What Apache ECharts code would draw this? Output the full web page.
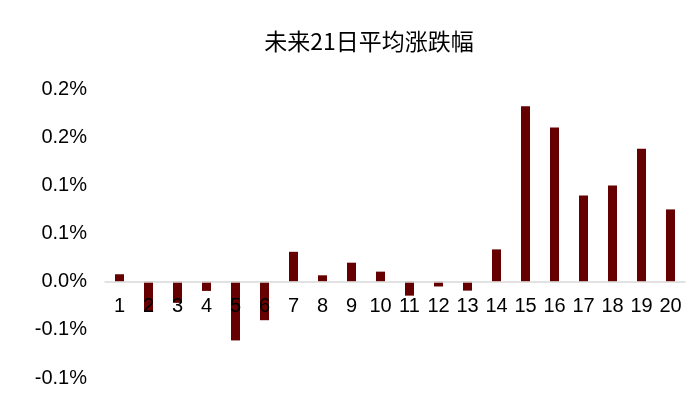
<!DOCTYPE html>
<html>
<head>
<meta charset="utf-8">
<script src="https://cdn.jsdelivr.net/npm/echarts@6/dist/echarts.min.js"></script>
<style>
html,body{margin:0;padding:0;background:#fff;}
#main{width:700px;height:413px;}
</style>
</head>
<body>
<div id="main"></div>
<script>
const categories = ['1','2','3','4','5','6','7','8','9','10','11','12','13','14','15','16','17','18','19','20'];
const avgChange = [0.0077,-0.031,-0.022,-0.0096,-0.061,-0.040,0.031,0.0066,0.0197,0.0104,-0.0145,-0.005,-0.0093,0.0335,0.182,0.160,0.0894,0.0998,0.138,0.075];
const yTickLabels = ['-0.1%','-0.1%','0.0%','0.1%','0.1%','0.2%','0.2%'];
const titleText = '未来21日平均涨跌幅';

const yMin = -0.10, yMax = 0.20, yStep = 0.05;
const gridTop = 89, gridBottom = 35, chartH = 413;
const plotH = chartH - gridTop - gridBottom;
const zeroOffset = (0 - yMin) / (yMax - yMin) * plotH;

const chart = echarts.init(document.getElementById('main'), null, {renderer:'canvas'});
chart.setOption({
  backgroundColor: '#ffffff',
  animation: false,
  title: {
    text: titleText,
    left: 364,
    top: 25,
    textAlign: 'center',
    textStyle: { fontFamily: '"Noto Sans CJK SC", sans-serif', fontSize: 23, fontWeight: 'normal', color: '#000' }
  },
  grid: { left: 105, right: 15, top: gridTop, bottom: gridBottom, containLabel: false },
  xAxis: {
    type: 'category',
    data: categories,
    boundaryGap: true,
    offset: -zeroOffset,
    z: 10,
    axisLine: { onZero: false, lineStyle: { color: '#d9d9d9', width: 1.5 } },
    axisTick: { show: false },
    axisLabel: { margin: 15, fontFamily: '"Liberation Sans", Arial, sans-serif', fontSize: 20, color: '#000', interval: 0 }
  },
  yAxis: {
    type: 'value',
    min: yMin,
    max: yMax,
    interval: yStep,
    axisLine: { show: false },
    axisTick: { show: false },
    splitLine: { show: false },
    axisLabel: {
      margin: 18,
      fontFamily: '"Liberation Sans", Arial, sans-serif',
      fontSize: 20,
      color: '#000',
      formatter: function (v, i) { return yTickLabels[i] !== undefined ? yTickLabels[i] : ''; }
    }
  },
  series: [{
    type: 'bar',
    data: avgChange,
    barWidth: 9,
    z: 2,
    itemStyle: { color: '#660000' }
  }]
});
</script>
</body>
</html>
